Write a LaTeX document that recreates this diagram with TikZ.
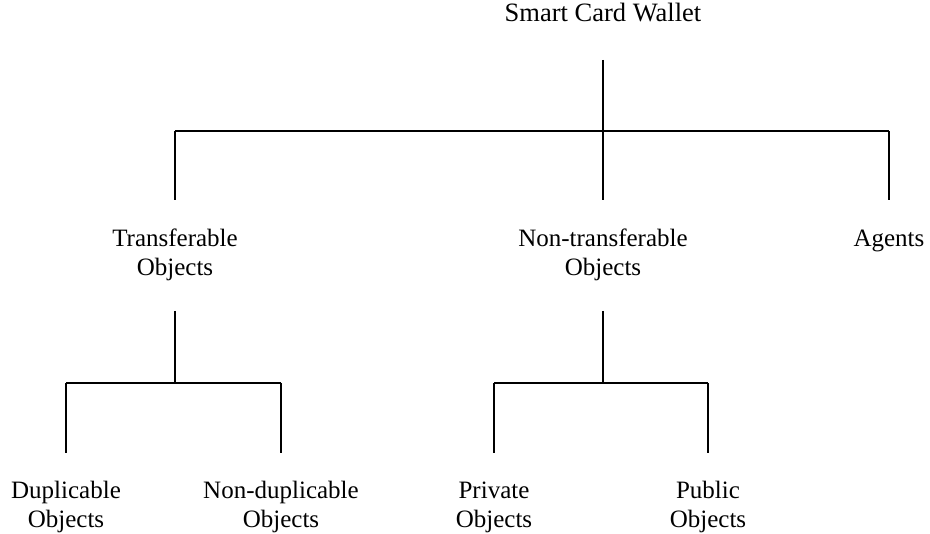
\documentclass[tikz,border=0pt]{standalone}
\usepackage{fontspec}
\setmainfont{Liberation Serif}
\begin{document}
\begin{tikzpicture}[x=1pt,y=-1pt,
  label/.style={inner sep=0pt, align=center, font=\fontsize{25}{29}\selectfont},
  link/.style={line width=1.3pt, line cap=butt}]
\useasboundingbox (0,0) rectangle (930,534);

% tree levels
\coordinate (top1) at (0,60);
\coordinate (bus1) at (0,131);
\coordinate (end1) at (0,200);
\coordinate (top2) at (0,311);
\coordinate (bus2) at (0,383);
\coordinate (end2) at (0,453);

% labels
\node[label, font=\fontsize{26.5}{30}\selectfont] (root) at (603,13) {Smart Card Wallet};
\node[label] (tr)  at (175,255) {Transferable\\Objects};
\node[label] (nt)  at (603,255) {Non-transferable\\Objects};
\node[label] (ag)  at (889,241) {Agents};
\node[label] (dup)  at (66,507) {Duplicable\\Objects};
\node[label] (ndup) at (281,507) {Non-duplicable\\Objects};
\node[label] (pri)  at (494,507) {Private\\Objects};
\node[label] (pub)  at (708,507) {Public\\Objects};

% first level
\draw[link] (root |- top1) -- (root |- end1);
\draw[link] (tr |- bus1) -- (ag |- bus1);
\draw[link] (tr |- bus1) -- (tr |- end1);
\draw[link] (ag |- bus1) -- (ag |- end1);

% transferable branch
\draw[link] (tr |- top2) -- (tr |- bus2);
\draw[link] (dup |- bus2) -- (ndup |- bus2);
\draw[link] (dup |- bus2) -- (dup |- end2);
\draw[link] (ndup |- bus2) -- (ndup |- end2);

% non-transferable branch
\draw[link] (nt |- top2) -- (nt |- bus2);
\draw[link] (pri |- bus2) -- (pub |- bus2);
\draw[link] (pri |- bus2) -- (pri |- end2);
\draw[link] (pub |- bus2) -- (pub |- end2);
\end{tikzpicture}
\end{document}
